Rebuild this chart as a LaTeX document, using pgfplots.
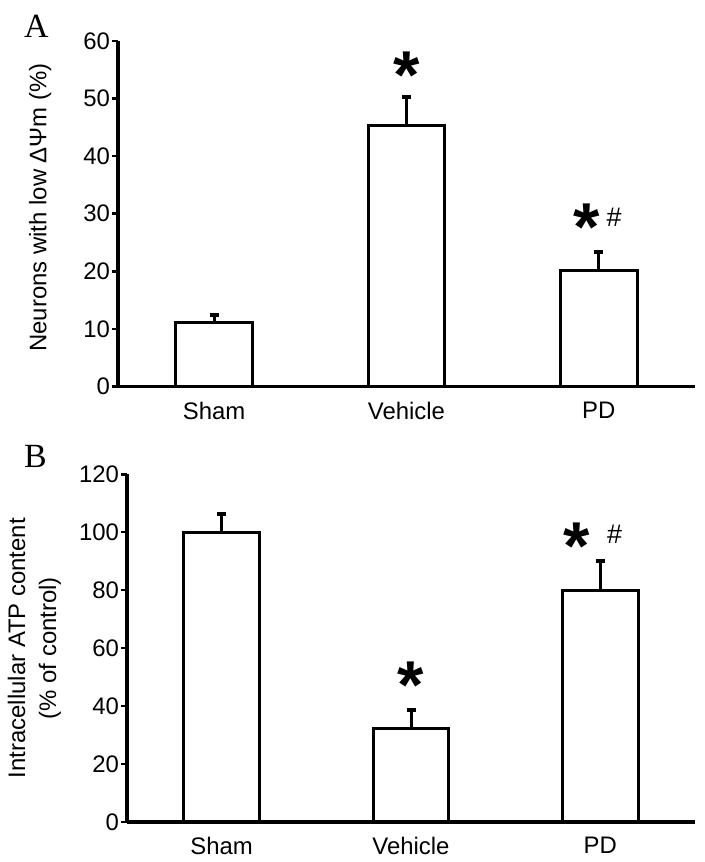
\documentclass[border=0pt]{standalone}
\usepackage{pgfplots}
\pgfplotsset{compat=1.18}
\usetikzlibrary{arrows.meta}
\usepackage{fontspec}
\setmainfont{Liberation Sans}
\newfontfamily\seriffont{Liberation Serif}
\begin{document}
\begin{tikzpicture}
\useasboundingbox (0,0) rectangle (705bp,862bp);
\tikzset{
 starst/.style={font=\fontsize{68}{68}\bfseries\selectfont, inner sep=0pt, anchor=north},
 hashst/.style={font=\fontsize{27}{27}\selectfont, inner sep=0pt, anchor=north},
}
\pgfplotsset{
 mystyle/.style={
  scale only axis,
  xmin=-0.5, xmax=2.5, ymin=0,
  enlargelimits=false,
  axis x line=bottom, axis y line=left,
  axis line style={-, line width=3bp, black},
  xtick={0,1,2}, xticklabels={Sham,Vehicle,PD},
  xtick style={draw=none},
  ytick style={line width=2.5bp, black},
  major tick length=6bp, tick align=outside,
  tick label style={font=\fontsize{24}{28}\selectfont},
  /pgf/number format/assume math mode=true,
  xticklabel style={yshift=-6bp},
  yticklabel style={xshift=1.5bp},
  clip=false,
  ybar, bar width=0.4,
  label style={font=\fontsize{24}{31}\selectfont},
 },
 barst/.style={fill=white, draw=black, line width=3bp,
   error bars/.cd, y dir=plus, y explicit,
   error mark=none,
   error bar style={line width=3bp, black, solid, -{Bar[width=9bp, line width=4bp]}}},
}
% Panel A
\begin{axis}[mystyle,
  at={(118bp,475.5bp)}, anchor=south west,
  width=577bp, height=345.5bp,
  ymax=60, ytick={0,10,...,60},
  ylabel={Neurons with low ΔΨm (\%)},
  ylabel style={at={(axis description cs:-0.135,0.518)}, anchor=center},
]
\addplot+[barst] coordinates {(0,11.1) +- (0,1.7) (1,45.4) +- (0,5.3) (2,20.2) +- (0,3.5)};
\node[starst] at (axis cs:1,58.1) {*};
\node[starst] at (axis cs:1.936,31.7) {*};
\node[hashst] at (axis cs:2.08,31.0) {\#};
\end{axis}
\node[font=\seriffont\fontsize{34}{34}\selectfont, inner sep=0pt, anchor=north west] at (24bp,847bp) {A};
% Panel B
\begin{axis}[mystyle,
  at={(127bp,40bp)}, anchor=south west,
  width=568bp, height=347.7bp,
  ymax=120, ytick={0,20,...,120},
  ylabel={Intracellular ATP content\\(\% of control)},
  ylabel style={at={(axis description cs:-0.163,0.5)}, anchor=center, align=center},
]
\addplot+[barst] coordinates {(0,100) +- (0,7) (1,32.1) +- (0,7.1) (2,80) +- (0,10.6)};
\node[starst] at (axis cs:1,55.2) {*};
\node[starst] at (axis cs:1.875,103.3) {*};
\node[hashst] at (axis cs:2.076,102.4) {\#};
\end{axis}
\node[font=\seriffont\fontsize{34}{34}\selectfont, inner sep=0pt, anchor=north west] at (24bp,417bp) {B};
\end{tikzpicture}
\end{document}
